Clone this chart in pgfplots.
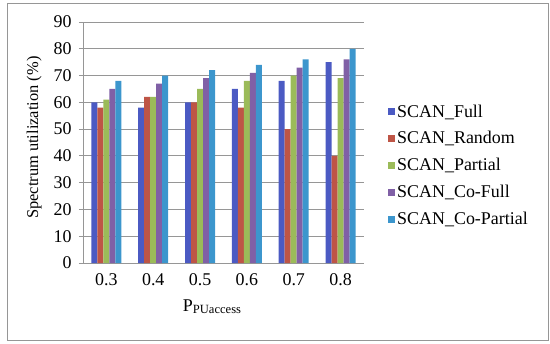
\documentclass[border=0pt]{standalone}
\usepackage{fontspec}
\setmainfont{Liberation Serif}
\usepackage{pgfplots}
\pgfplotsset{compat=1.18}
\definecolor{cA}{RGB}{75,90,195}
\definecolor{cB}{RGB}{190,85,70}
\definecolor{cC}{RGB}{155,187,89}
\definecolor{cD}{RGB}{128,96,166}
\definecolor{cE}{RGB}{60,150,205}
\definecolor{gridc}{RGB}{150,150,150}
\begin{document}
\begin{tikzpicture}[x=1bp,y=1bp]
\useasboundingbox (-83bp,-81bp) rectangle (467bp,263bp);
\draw[gridc, line width=1bp] (-75bp,-77bp) rectangle (465bp,259bp);
\begin{axis}[
  at={(0,0)}, anchor=south west,
  scale only axis,
  width=281bp, height=241bp,
  xmin=-0.5, xmax=5.5,
  ymin=0, ymax=90,
  ytick={0,10,...,90},
  xtick=data,
  xticklabels={0.3,0.4,0.5,0.6,0.7,0.8},
  ybar=0pt, bar width=6bp,
  axis x line*=bottom, axis y line*=left,
  axis line style={gridc, line width=0.8bp, -},
  ymajorgrids, major grid style={gridc, line width=0.8bp},
  major tick length=4bp,
  xtick style={draw=none},
  ytick style={gridc, line width=0.8bp},
  tick align=outside,
  /pgf/number format/assume math mode=true,
  tick label style={font=\fontsize{18}{20}\selectfont},
  yticklabel style={xshift=-4bp},
  xticklabel style={yshift=-3bp},
  ylabel={Spectrum utilization (\%)},
  ylabel style={font=\fontsize{16.5}{18}\selectfont, at={(axis description cs:-0.135,0.52)}},
  xlabel={P\textsubscript{PUaccess}},
  xlabel style={font=\fontsize{18}{20}\selectfont, anchor=base, at={(axis description cs:0.46,-0.2)}},
  legend style={at={(1.075,0.405)}, anchor=west, draw=none, fill=none,
    font=\fontsize{18}{20}\selectfont, row sep=9bp,
    /tikz/every even column/.append style={column sep=1bp}},
  legend image code/.code={\fill[#1] (0bp,-3.5bp) rectangle (7bp,3.5bp);},
  legend cell align=left,
]
\addplot[fill=cA, draw=none] coordinates {(0,60) (1,58) (2,60) (3,65) (4,68) (5,75)};
\addplot[fill=cB, draw=none] coordinates {(0,58) (1,62) (2,60) (3,58) (4,50) (5,40)};
\addplot[fill=cC, draw=none] coordinates {(0,61) (1,62) (2,65) (3,68) (4,70) (5,69)};
\addplot[fill=cD, draw=none] coordinates {(0,65) (1,67) (2,69) (3,71) (4,73) (5,76)};
\addplot[fill=cE, draw=none] coordinates {(0,68) (1,70) (2,72) (3,74) (4,76) (5,80)};
\legend{SCAN\_Full,SCAN\_Random,SCAN\_Partial,SCAN\_Co-Full,SCAN\_Co-Partial}
\end{axis}
\end{tikzpicture}
\end{document}
